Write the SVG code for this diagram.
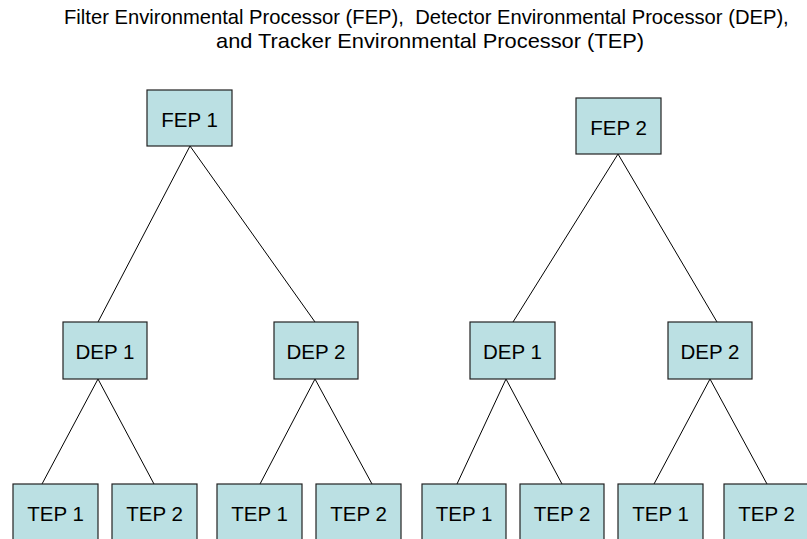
<svg xmlns="http://www.w3.org/2000/svg" width="807" height="539" viewBox="0 0 807 539">
<style>
.box{fill:#BBE0E3;stroke:#222;stroke-width:1.2}
.lbl{font-family:"Liberation Sans",Arial,sans-serif;font-size:20.5px;fill:#000;text-anchor:middle}
.ttl{font-family:"Liberation Sans",Arial,sans-serif;font-size:20.2px;fill:#000;white-space:pre}
.con{stroke:#000;stroke-width:1;fill:none}
</style>
<rect width="807" height="539" fill="#fff"/>
<g id="title">
<text class="ttl" x="64" y="24" xml:space="preserve">Filter Environmental Processor (FEP),  Detector Environmental Processor (DEP),</text>
<text class="ttl" x="216" y="48" textLength="428" lengthAdjust="spacingAndGlyphs">and Tracker Environmental Processor (TEP)</text>
</g>
<g id="connectors">
<line class="con" x1="190" y1="146" x2="98" y2="322"/>
<line class="con" x1="190" y1="146" x2="315" y2="322"/>
<line class="con" x1="618" y1="154" x2="513" y2="322"/>
<line class="con" x1="618" y1="154" x2="717" y2="322"/>
<line class="con" x1="98" y1="379" x2="42" y2="484"/>
<line class="con" x1="98" y1="379" x2="154" y2="484"/>
<line class="con" x1="315" y1="379" x2="260" y2="484"/>
<line class="con" x1="315" y1="379" x2="372" y2="484"/>
<line class="con" x1="506" y1="379" x2="457" y2="484"/>
<line class="con" x1="506" y1="379" x2="562" y2="484"/>
<line class="con" x1="710" y1="379" x2="654" y2="484"/>
<line class="con" x1="710" y1="379" x2="767" y2="484"/>
</g>
<g id="fep1"><rect class="box" x="147" y="90" width="85" height="56"/><text class="lbl" x="189.5" y="126.5">FEP 1</text></g>
<g id="fep2"><rect class="box" x="576" y="98" width="85" height="56"/><text class="lbl" x="618.5" y="134.5">FEP 2</text></g>
<g id="dep1a"><rect class="box" x="63" y="322" width="84" height="57"/><text class="lbl" x="105" y="358.5">DEP 1</text></g>
<g id="dep2a"><rect class="box" x="274" y="322" width="84" height="57"/><text class="lbl" x="316" y="358.5">DEP 2</text></g>
<g id="dep1b"><rect class="box" x="470" y="322" width="85" height="57"/><text class="lbl" x="512.5" y="358.5">DEP 1</text></g>
<g id="dep2b"><rect class="box" x="668" y="322" width="84" height="57"/><text class="lbl" x="710" y="358.5">DEP 2</text></g>
<g id="tep1a"><rect class="box" x="13" y="484" width="85" height="62"/><text class="lbl" x="55.5" y="520.5">TEP 1</text></g>
<g id="tep2a"><rect class="box" x="112" y="484" width="85" height="62"/><text class="lbl" x="154.5" y="520.5">TEP 2</text></g>
<g id="tep1b"><rect class="box" x="217" y="484" width="85" height="62"/><text class="lbl" x="259.5" y="520.5">TEP 1</text></g>
<g id="tep2b"><rect class="box" x="316" y="484" width="85" height="62"/><text class="lbl" x="358.5" y="520.5">TEP 2</text></g>
<g id="tep1c"><rect class="box" x="422" y="484" width="84" height="62"/><text class="lbl" x="464" y="520.5">TEP 1</text></g>
<g id="tep2c"><rect class="box" x="520" y="484" width="84" height="62"/><text class="lbl" x="562" y="520.5">TEP 2</text></g>
<g id="tep1d"><rect class="box" x="618" y="484" width="85" height="62"/><text class="lbl" x="660.5" y="520.5">TEP 1</text></g>
<g id="tep2d"><rect class="box" x="724" y="484" width="85" height="62"/><text class="lbl" x="766.5" y="520.5">TEP 2</text></g>
</svg>
